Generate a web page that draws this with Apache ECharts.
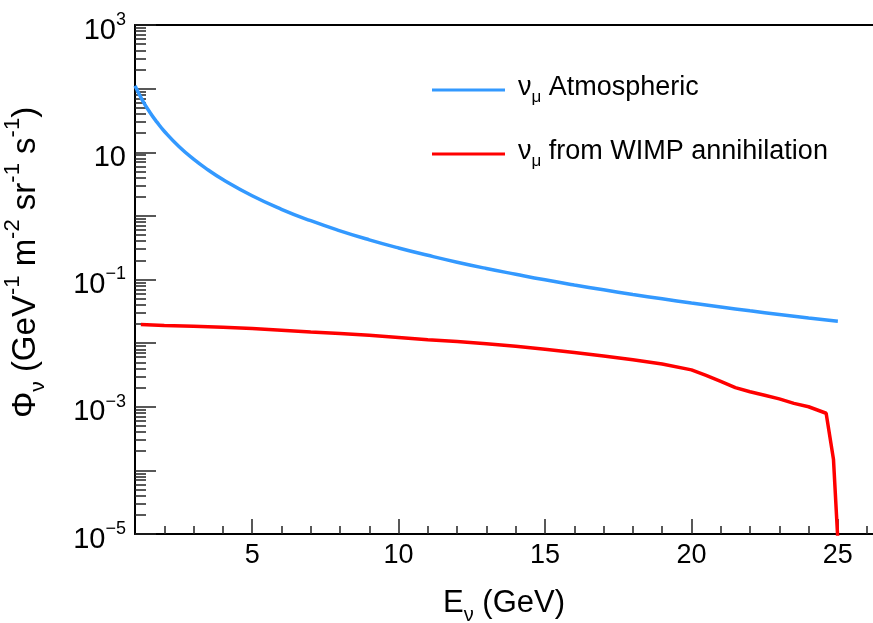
<!DOCTYPE html>
<html>
<head>
<meta charset="utf-8">
<script src="https://cdn.jsdelivr.net/npm/echarts@6/dist/echarts.min.js"></script>
<style>
  html, body { margin: 0; padding: 0; background: #fff; }
  #chart { width: 873px; height: 623px; }
</style>
</head>
<body>
<div id="chart"></div>
<script>
// energies (GeV) and fluxes
var atmE = [1, 1.25, 1.5, 1.75, 2, 2.5, 3, 3.5, 4, 5, 6, 7, 8, 9, 10, 11, 12, 13, 14, 15, 16, 17, 18, 19, 20, 21, 22, 23, 24, 25];
var atmFlux = [111, 66.2, 43.0, 29.7, 21.4, 12.3, 7.79, 5.26, 3.72, 2.07, 1.27, 0.839, 0.582, 0.420, 0.313, 0.240, 0.187, 0.149, 0.121, 0.0989, 0.0820, 0.0688, 0.0582, 0.0497, 0.0427, 0.0370, 0.0322, 0.0282, 0.0248, 0.0220];

var wimpE = [1.2, 2, 3, 4, 5, 6, 7, 8, 9, 10, 11, 12, 13, 14, 15, 16, 17, 18, 19, 20, 20.5, 21, 21.5, 22, 22.5, 23, 23.5, 24, 24.6, 24.85, 25.05];
var wimpFlux = [0.0197, 0.0190, 0.0184, 0.0177, 0.0170, 0.0160, 0.0150, 0.0142, 0.0133, 0.0123, 0.0113, 0.0106, 0.0098, 0.0089, 0.0080, 0.0071, 0.0063, 0.0055, 0.0047, 0.0038, 0.0031, 0.0025, 0.0020, 0.00172, 0.00152, 0.00133, 0.00113, 0.00100, 0.00079, 0.00015, 0.000003];

var seriesNames = ['Atmospheric', 'from WIMP annihilation'];
var xMajorTicks = [5, 10, 15, 20, 25];
var xMinorTicks = [2, 3, 4, 6, 7, 8, 9, 11, 12, 13, 14, 16, 17, 18, 19, 21, 22, 23, 24, 26];
var yLabelExps = [-5, -3, -1, 1, 3];

var font = '"Liberation Sans", Arial, Helvetica, sans-serif';

// minor log ticks (2..9 x 10^n), as log10 values for the overlay axis
var yMinorTicks = [];
for (var n = -5; n < 3; n++) {
  for (var k = 2; k < 10; k++) yMinorTicks.push(n + Math.log10(k));
}

function pairs(xs, ys) {
  return xs.map(function (x, i) { return [x, ys[i]]; });
}

var chart = echarts.init(document.getElementById('chart'));

var legendBase = {
  icon: 'rect',
  itemWidth: 73,
  itemHeight: 3,
  padding: 0,
  left: 432,
  formatter: function (name) {
    return '{n|\u03bd}{s|\u03bc}{t| ' + name + '}';
  },
  textStyle: {
    color: '#000',
    fontFamily: font,
    rich: {
      n: { fontSize: 27, fontFamily: font, padding: [0, 0, 5, 8] },
      s: { fontSize: 17, fontFamily: font, verticalAlign: 'bottom' },
      t: { fontSize: 27, fontFamily: font, padding: [0, 0, 5, 0] }
    }
  }
};

var option = {
  animation: false,
  backgroundColor: '#fff',
  grid: { left: 135, right: 0, top: 25, bottom: 89, outerBoundsMode: 'none', containLabel: false },
  legend: [
    Object.assign({}, legendBase, { top: 74, data: [seriesNames[0]] }),
    Object.assign({}, legendBase, { top: 138, data: [seriesNames[1]] })
  ],
  xAxis: [
    {
      type: 'value', min: 1, max: 26.2, position: 'bottom',
      axisLine: { onZero: false, lineStyle: { color: '#000', width: 2 } },
      axisTick: { inside: true, length: 15, customValues: xMajorTicks, lineStyle: { color: '#222', width: 1.5 } },
      axisLabel: { customValues: xMajorTicks, color: '#000', fontSize: 27, fontFamily: font, margin: 8 },
      splitLine: { show: false },
      name: '{t|E}{s|\u03bd}{t| (GeV)}',
      nameLocation: 'middle',
      nameGap: 54,
      nameTextStyle: {
        color: '#000',
        rich: {
          t: { fontSize: 31, fontFamily: font, padding: [0, 0, 6, 0] },
          s: { fontSize: 20, fontFamily: font, verticalAlign: 'bottom' }
        }
      }
    },
    {
      type: 'value', min: 1, max: 26.2, position: 'bottom', offset: 0,
      axisLine: { show: false, onZero: false },
      axisTick: { inside: true, length: 8, customValues: xMinorTicks, lineStyle: { color: '#222', width: 1.5 } },
      axisLabel: { show: false },
      splitLine: { show: false }
    },
    {
      type: 'value', min: 1, max: 26.2, position: 'top', offset: 0,
      axisLine: { onZero: false, lineStyle: { color: '#000', width: 2 } },
      axisTick: { show: false },
      axisLabel: { show: false },
      splitLine: { show: false }
    }
  ],
  yAxis: [
    {
      type: 'log', logBase: 10, min: 1e-5, max: 1e3,
      axisLine: { show: true, onZero: false, lineStyle: { color: '#000', width: 2 } },
      axisTick: { show: false },
      axisLabel: { show: false },
      splitLine: { show: false },
      name: '{t|\u03a6}{s|\u03bd}{t| (GeV}{p|-1}{t| m}{p|-2}{t| sr}{p|-1}{t| s}{p|-1}{t|)}',
      nameLocation: 'middle',
      nameGap: 86,
      nameTextStyle: {
        color: '#000',
        padding: [0, 0, 0, 34],
        rich: {
          t: { fontSize: 33, fontFamily: font, padding: [7, 0, 7, 0] },
          s: { fontSize: 21, fontFamily: font, verticalAlign: 'bottom' },
          p: { fontSize: 22, fontFamily: font, verticalAlign: 'top' }
        }
      }
    },
    {
      type: 'value', min: -5, max: 3, interval: 1, position: 'left', offset: 0,
      axisLine: { show: false, onZero: false },
      axisTick: { inside: true, length: 21, lineStyle: { color: '#222', width: 1.5 } },
      axisLabel: {
        margin: 9,
        color: '#000',
        padding: [6, 0, 0, 0],
        formatter: function (v) {
          if (yLabelExps.indexOf(v) < 0) return '';
          if (v === 1) return '{b|10}';
          return '{b|10}{e|' + (v < 0 ? '\u2212' + (-v) : v) + '}';
        },
        rich: {
          b: { fontSize: 29, fontFamily: font, color: '#000', padding: [5, 0, 0, 0] },
          e: { fontSize: 18, fontFamily: font, color: '#000', verticalAlign: 'top' }
        }
      },
      splitLine: { show: false }
    },
    {
      type: 'value', min: -5, max: 3, position: 'left', offset: 0,
      axisLine: { show: false, onZero: false },
      axisTick: { inside: true, length: 11, customValues: yMinorTicks, lineStyle: { color: '#222', width: 1.5 } },
      axisLabel: { show: false },
      splitLine: { show: false }
    }
  ],
  series: [
    {
      name: seriesNames[0],
      type: 'line',
      xAxisIndex: 0, yAxisIndex: 0,
      data: pairs(atmE, atmFlux),
      showSymbol: false,
      smooth: true,
      color: '#3399ff',
      lineStyle: { width: 3.5, color: '#3399ff' }
    },
    {
      name: seriesNames[1],
      type: 'line',
      xAxisIndex: 0, yAxisIndex: 0,
      data: pairs(wimpE, wimpFlux),
      showSymbol: false,
      color: '#ff0000',
      lineStyle: { width: 3.5, color: '#ff0000' }
    }
  ]
};

chart.setOption(option);
</script>
</body>
</html>
